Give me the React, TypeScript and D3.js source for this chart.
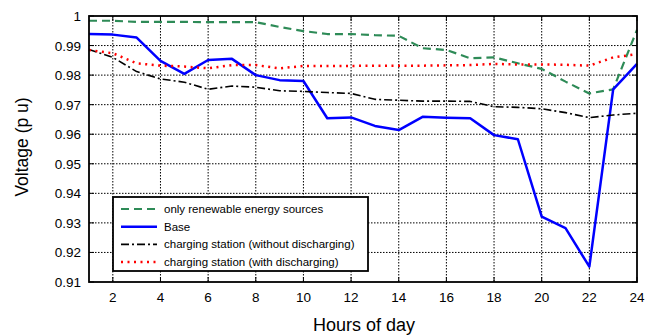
import React, { useEffect, useRef } from "react";
import * as d3 from "d3";

const hours = d3.range(1, 25);

const renewableOnly = [
  0.9984, 0.9984, 0.998, 0.998, 0.998, 0.9979, 0.9979, 0.9979, 0.9963, 0.9949,
  0.9939, 0.9939, 0.9935, 0.9933, 0.9891, 0.9885, 0.9857, 0.986, 0.984, 0.9821,
  0.9778, 0.9738, 0.9752, 0.9953,
];
const base = [
  0.9939, 0.9937, 0.9927, 0.9848, 0.9804, 0.9851, 0.9855, 0.98, 0.9783, 0.978,
  0.9654, 0.9657, 0.9628, 0.9614, 0.9659, 0.9656, 0.9654, 0.9597, 0.9583, 0.9321,
  0.9282, 0.9152, 0.9752, 0.9838,
];
const withoutDischarging = [
  0.9887, 0.986, 0.9812, 0.9787, 0.9776, 0.9752, 0.9763, 0.9759, 0.9747, 0.9745,
  0.9741, 0.9738, 0.9718, 0.9715, 0.9712, 0.9712, 0.9711, 0.9693, 0.9691, 0.9686,
  0.9673, 0.9656, 0.9665, 0.9671,
];
const withDischarging = [
  0.9885, 0.9874, 0.984, 0.9832, 0.9829, 0.9823, 0.9834, 0.9834, 0.9823, 0.9831,
  0.9831, 0.9831, 0.9832, 0.9832, 0.9832, 0.9833, 0.9834, 0.9838, 0.9836, 0.9836,
  0.9835, 0.9832, 0.986, 0.9871,
];

const xTicks = d3.range(2, 25, 2);
const yTicks = d3.range(0, 10).map((i) => +(0.91 + i * 0.01).toFixed(2));

const seriesList = [
  { name: "only renewable energy sources", values: renewableOnly, color: "#2e8b57", width: 2.2, dash: "8,5" },
  { name: "Base", values: base, color: "#0000ff", width: 2.5, dash: null },
  { name: "charging station (without discharging)", values: withoutDischarging, color: "#000000", width: 1.6, dash: "8,3,2,3" },
  { name: "charging station (with discharging)", values: withDischarging, color: "#ff0000", width: 2.5, dash: "2,4.5" },
];

const W = 656;
const H = 335;
const margin = { top: 16, right: 19, bottom: 53, left: 89 };

export default function App() {
  const svgRef = useRef<SVGSVGElement>(null);

  useEffect(() => {
    const svg = d3.select(svgRef.current);
    svg.selectAll("*").remove();
    const width = W - margin.left - margin.right;
    const height = H - margin.top - margin.bottom;
    const font = "Liberation Sans, Arial, sans-serif";

    const x = d3.scaleLinear().domain([1, 24]).range([0, width]);
    const y = d3.scaleLinear().domain([0.91, 1]).range([height, 0]);

    const g = svg.append("g").attr("transform", `translate(${margin.left},${margin.top})`);

    // grid
    g.selectAll(".vgrid")
      .data(xTicks.filter((t) => t < 24))
      .enter()
      .append("line")
      .attr("x1", (d) => x(d))
      .attr("x2", (d) => x(d))
      .attr("y1", 0)
      .attr("y2", height)
      .attr("stroke", "#000")
      .attr("stroke-width", 1)
      .attr("stroke-dasharray", "1.5,1.5");
    g.selectAll(".hgrid")
      .data(yTicks.filter((t) => t > 0.91 && t < 1))
      .enter()
      .append("line")
      .attr("x1", 0)
      .attr("x2", width)
      .attr("y1", (d) => y(d))
      .attr("y2", (d) => y(d))
      .attr("stroke", "#000")
      .attr("stroke-width", 1)
      .attr("stroke-dasharray", "1.5,1.5");

    // inner ticks on all sides
    xTicks.forEach((t) => {
      g.append("line").attr("x1", x(t)).attr("x2", x(t)).attr("y1", height).attr("y2", height - 5).attr("stroke", "#000");
      g.append("line").attr("x1", x(t)).attr("x2", x(t)).attr("y1", 0).attr("y2", 5).attr("stroke", "#000");
    });
    yTicks.forEach((t) => {
      g.append("line").attr("x1", 0).attr("x2", 5).attr("y1", y(t)).attr("y2", y(t)).attr("stroke", "#000");
      g.append("line").attr("x1", width).attr("x2", width - 5).attr("y1", y(t)).attr("y2", y(t)).attr("stroke", "#000");
    });

    // lines
    const line = d3
      .line<number>()
      .x((_, i) => x(hours[i]))
      .y((d) => y(d));
    seriesList.forEach((s) => {
      g.append("path")
        .datum(s.values)
        .attr("d", line)
        .attr("fill", "none")
        .attr("stroke", s.color)
        .attr("stroke-width", s.width)
        .attr("stroke-dasharray", s.dash)
        .attr("stroke-linejoin", "round");
    });

    // box
    g.append("rect")
      .attr("width", width)
      .attr("height", height)
      .attr("fill", "none")
      .attr("stroke", "#000")
      .attr("stroke-width", 1.8);

    // tick labels
    g.selectAll(".xl")
      .data(xTicks)
      .enter()
      .append("text")
      .attr("x", (d) => x(d))
      .attr("y", height + 20)
      .attr("text-anchor", "middle")
      .attr("font-family", font)
      .attr("font-size", 13.5)
      .text((d) => d);
    g.selectAll(".yl")
      .data(yTicks)
      .enter()
      .append("text")
      .attr("x", -8)
      .attr("y", (d) => y(d) + 5)
      .attr("text-anchor", "end")
      .attr("font-family", font)
      .attr("font-size", 13.5)
      .text((d) => (d === 1 ? "1" : d.toFixed(2)));

    // axis titles
    svg.append("text")
      .attr("x", 364)
      .attr("y", 331)
      .attr("text-anchor", "middle")
      .attr("font-family", font)
      .attr("font-size", 18)
      .text("Hours of day");
    svg.append("text")
      .attr("transform", `translate(28,147) rotate(-90)`)
      .attr("text-anchor", "middle")
      .attr("font-family", font)
      .attr("font-size", 17.5)
      .text("Voltage (p u)");

    // legend
    const lg = svg.append("g").attr("transform", "translate(113,197)");
    lg.append("rect")
      .attr("width", 255)
      .attr("height", 74)
      .attr("fill", "#fff")
      .attr("stroke", "#000")
      .attr("stroke-width", 1.8);
    seriesList.forEach((s, i) => {
      const ly = 12 + i * 17.7;
      lg.append("line")
        .attr("x1", 8)
        .attr("x2", 44)
        .attr("y1", ly)
        .attr("y2", ly)
        .attr("stroke", s.color)
        .attr("stroke-width", s.width)
        .attr("stroke-dasharray", s.dash);
      lg.append("text")
        .attr("x", 51)
        .attr("y", ly + 4)
        .attr("font-family", font)
        .attr("font-size", 11.5)
        .text(s.name);
    });
  }, []);

  return <svg ref={svgRef} width={W} height={H} style={{ position: "absolute", left: 0, top: 0 }} />;
}
